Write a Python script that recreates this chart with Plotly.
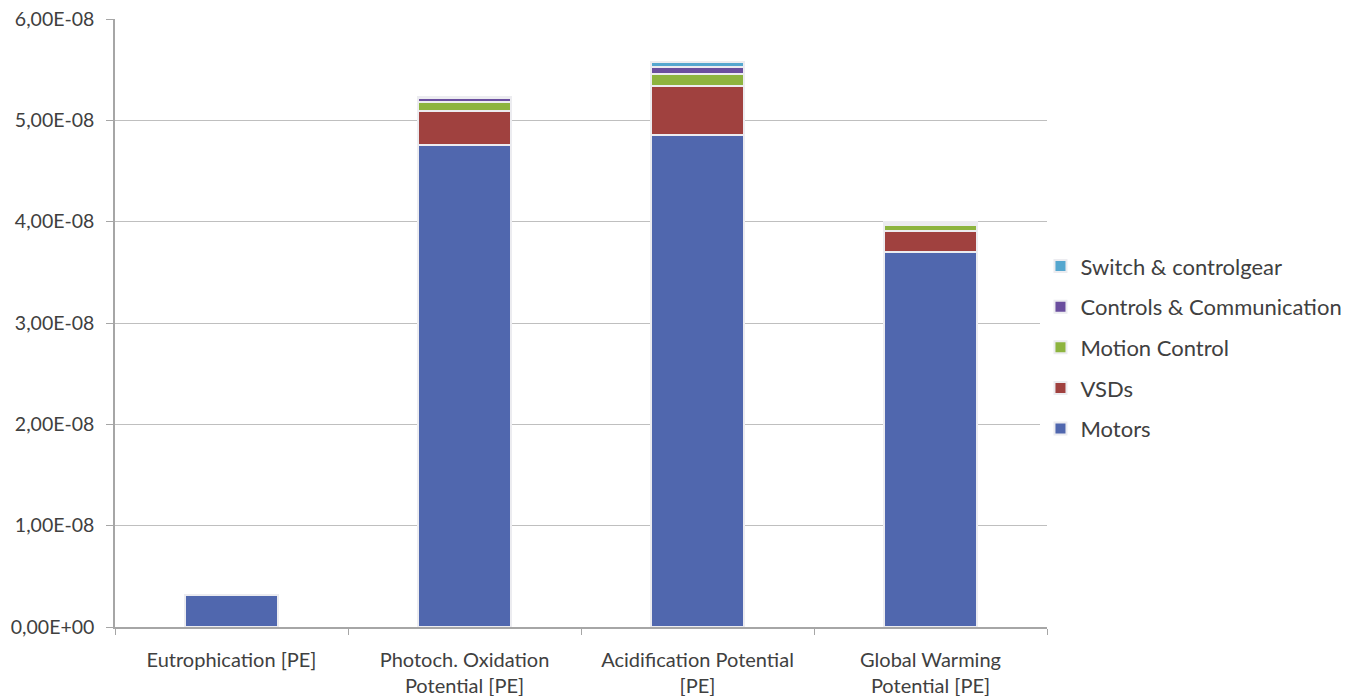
import plotly.graph_objects as go

categories = ["Eutrophication [PE]", "Photoch. Oxidation<br>Potential [PE]",
              "Acidification Potential<br>[PE]", "Global Warming<br>Potential [PE]"]
motors = [3.2e-9, 4.76e-8, 4.86e-8, 3.70e-8]
vsds = [0.0, 3.35e-9, 4.75e-9, 2.1e-9]
motion_control = [0.0, 8.5e-10, 1.2e-9, 6.0e-10]
controls_comm = [0.0, 4.0e-10, 7.0e-10, 2.0e-10]
switch_gear = [0.0, 1.0e-10, 5.0e-10, 1.0e-10]

y_tickvals = [0, 1e-8, 2e-8, 3e-8, 4e-8, 5e-8, 6e-8]
y_ticktext = ["0,00E+00", "1,00E-08", "2,00E-08", "3,00E-08", "4,00E-08", "5,00E-08", "6,00E-08"]

series = [
    ("Motors", motors, "#5067AE"),
    ("VSDs", vsds, "#A0413F"),
    ("Motion Control", motion_control, "#8DB43F"),
    ("Controls & Communication", controls_comm, "#6A4E9E"),
    ("Switch & controlgear", switch_gear, "#55A7CF"),
]

font_family = "Lato, 'Open Sans', sans-serif"
fig = go.Figure()
n = len(series)
for i, (name, vals, color) in enumerate(series):
    fig.add_trace(go.Bar(
        x=categories, y=vals, name=name, legendgroup=str(i),
        legendrank=n - i,
        marker=dict(color=color, line=dict(color="#ececf0", width=2)),
    ))

fig.update_layout(
    barmode="stack",
    bargap=0.6,
    width=1356, height=696,
    margin=dict(l=115, r=309, t=19, b=69, autoexpand=False),
    paper_bgcolor="white", plot_bgcolor="white",
    font=dict(family=font_family, size=19, color="#404040"),
    showlegend=True,
    legend=dict(
        traceorder="grouped", tracegroupgap=9,
        x=0.993, xanchor="left", y=0.46, yanchor="middle",
        font=dict(size=22, color="#404040"),
        itemwidth=30,
    ),
    xaxis=dict(
        showline=True, linecolor="#a6a6a6", linewidth=1.5,
        ticks="outside", tickson="boundaries", ticklen=6, tickcolor="#a6a6a6",
        showgrid=False, tickfont=dict(size=20, color="#404040"),
        automargin=False, ticklabelstandoff=14,
    ),
    yaxis=dict(
        range=[0, 6e-8], tickvals=y_tickvals, ticktext=y_ticktext,
        showline=True, linecolor="#a6a6a6", linewidth=1.5,
        ticks="outside", ticklen=7, tickcolor="#a6a6a6",
        showgrid=True, gridcolor="#bfbfbf", gridwidth=1.2,
        zeroline=False, tickfont=dict(size=19.5, color="#404040"),
        ticklabelstandoff=8, automargin=False, ticklabeloverflow="allow",
    ),
)

fig.write_html(
    "out.html",
    config={"displayModeBar": False},
    post_script="document.body.style.margin='0';document.body.style.overflow='hidden';",
)
